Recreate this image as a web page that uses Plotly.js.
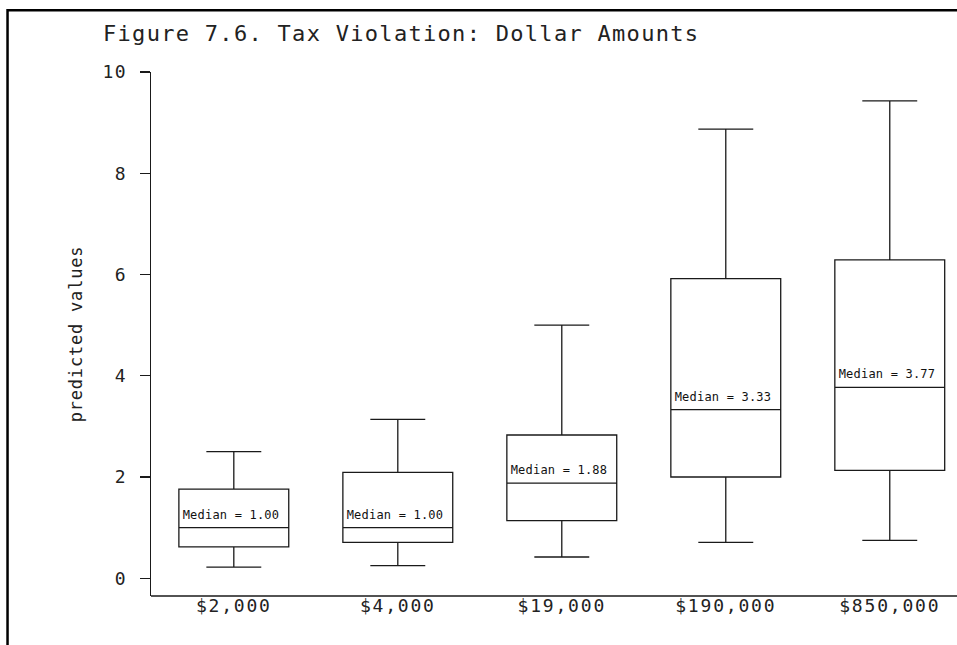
<!DOCTYPE html>
<html>
<head>
<meta charset="utf-8">
<script src="https://cdn.plot.ly/plotly-3.0.1.min.js"></script>
<style>
  html, body { margin: 0; padding: 0; background: #fff; }
  #chart { width: 957px; height: 645px; }
  #chart .gtitle { letter-spacing: 1.3px; }
  #chart .xtick text { letter-spacing: 1.8px; }
  #chart .ytick text { letter-spacing: 1.5px; }
  #chart .g-ytitle text { letter-spacing: 0.8px; }
  #chart .annotation-text { letter-spacing: 0.2px; }
</style>
</head>
<body>
<div id="chart"></div>
<script>
// ---- data ----
const categories = ['$2,000', '$4,000', '$19,000', '$190,000', '$850,000'];
const lowerWhisker = [0.22, 0.25, 0.42, 0.71, 0.75];
const q1Values     = [0.62, 0.71, 1.14, 2.00, 2.13];
const medianValues = [1.00, 1.00, 1.88, 3.33, 3.77];
const q3Values     = [1.76, 2.09, 2.83, 5.92, 6.29];
const upperWhisker = [2.50, 3.14, 5.00, 8.87, 9.43];
const yTickValues  = [0, 2, 4, 6, 8, 10];

const lineColor = '#1a1a1a';
const textColor = '#222';
const mono = '"DejaVu Sans Mono", "Liberation Mono", monospace';

const trace = {
  type: 'box',
  x: categories,
  q1: q1Values,
  median: medianValues,
  q3: q3Values,
  lowerfence: lowerWhisker,
  upperfence: upperWhisker,
  width: 0.67,
  whiskerwidth: 0.5,
  fillcolor: 'rgba(255,255,255,0)',
  line: { color: lineColor, width: 1.3 },
  boxpoints: false,
  hoverinfo: 'skip',
  showlegend: false
};

const annotations = categories.map((c, i) => ({
  x: c,
  y: medianValues[i],
  xref: 'x',
  yref: 'y',
  text: 'Median = ' + medianValues[i].toFixed(2),
  showarrow: false,
  xanchor: 'center',
  yanchor: 'middle',
  xshift: -3,
  yshift: 13,
  font: { family: mono, size: 12, color: '#111' }
}));

const shapes = [
  // outer frame (left + top border of the figure)
  {
    type: 'path',
    xref: 'paper',
    yref: 'paper',
    path: 'M -0.178,-0.2 L -0.178,1.118 L 1.05,1.118',
    line: { color: '#000', width: 2.5 }
  },
  // x-axis base line at the bottom of the plot area
  {
    type: 'line',
    xref: 'paper',
    yref: 'paper',
    x0: 0, x1: 1.01, y0: 0, y1: 0,
    line: { color: lineColor, width: 1.3 }
  }
];

const layout = {
  width: 957,
  height: 645,
  paper_bgcolor: '#fff',
  plot_bgcolor: '#fff',
  margin: { l: 151, r: 0, t: 72, b: 49 },
  title: {
    text: 'Figure 7.6. Tax Violation: Dollar Amounts',
    x: 103 / 957,
    xref: 'container',
    xanchor: 'left',
    y: 1 - 33 / 645,
    yref: 'container',
    yanchor: 'middle',
    font: { family: mono, size: 22, color: textColor }
  },
  xaxis: {
    type: 'category',
    categoryorder: 'array',
    categoryarray: categories,
    range: [-0.505, 4.41],
    anchor: 'free',
    position: 0.006,
    showline: false,
    ticks: '',
    showgrid: false,
    zeroline: false,
    ticklabelstandoff: 0,
    tickfont: { family: mono, size: 18, color: textColor },
    fixedrange: true
  },
  yaxis: {
    range: [-0.35, 10],
    tickvals: yTickValues,
    ticktext: yTickValues.map(String),
    showline: true,
    linecolor: lineColor,
    linewidth: 1.3,
    ticks: 'outside',
    ticklen: 10,
    tickwidth: 1.3,
    tickcolor: lineColor,
    ticklabelstandoff: 9,
    showgrid: false,
    zeroline: false,
    tickfont: { family: mono, size: 18, color: textColor },
    title: {
      text: 'predicted values',
      standoff: 18,
      font: { family: mono, size: 17, color: textColor }
    },
    fixedrange: true
  },
  annotations: annotations,
  shapes: shapes,
  showlegend: false
};

Plotly.newPlot('chart', [trace], layout, { displayModeBar: false, staticPlot: true });
</script>
</body>
</html>
